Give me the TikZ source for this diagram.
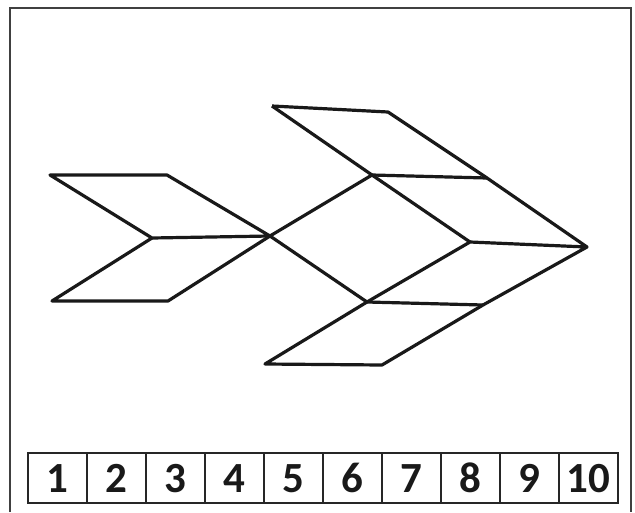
\documentclass[tikz,border=0pt]{standalone}
\usepackage{fontspec}
\newfontfamily\numfont{Carlito}
\usetikzlibrary{matrix}

\tikzset{
  edge/.style={line width=3.2pt, line join=round, color=black!90},
  frame/.style={line width=2.4pt, color=black!75},
  numbox/.style={draw, line width=2pt, color=black!85, text=black!90,
                 minimum width=59pt, minimum height=50pt, inner sep=0pt,
                 font=\numfont\bfseries\fontsize{43}{46}\selectfont}
}

\begin{document}
\begin{tikzpicture}[x=1pt, y=-1pt]
  \useasboundingbox (0,0) rectangle (635,512);

  % outer frame (open at the bottom)
  \draw[frame] (10,512) -- (10,8) -- (631,8) -- (631,512);

  % points of the figure
  \coordinate (lt1) at (50,175);
  \coordinate (lt2) at (167,175);
  \coordinate (lc)  at (152,238);
  \coordinate (lb1) at (52,301);
  \coordinate (lb2) at (168,301);
  \coordinate (j)   at (270,236);
  \coordinate (ta)  at (272,106);
  \coordinate (tb)  at (388,112);
  \coordinate (tc)  at (372,175);
  \coordinate (td)  at (487,178);
  \coordinate (m)   at (470,242);
  \coordinate (tip) at (587,247);
  \coordinate (bc)  at (367,302);
  \coordinate (bd)  at (483,305);
  \coordinate (ba)  at (265,364);
  \coordinate (bb)  at (382,365);

  % tail
  \draw[edge] (lt1) -- (lt2) -- (j) -- (lc) -- cycle;
  \draw[edge] (lc) -- (lb1) -- (lb2) -- (j);

  % head
  \draw[edge] (ta) -- (tb) -- (td) -- (tip) -- (bd) -- (bb) -- (ba) -- (bc) -- (m) -- (tip);
  \draw[edge] (ta) -- (tc) -- (m);
  \draw[edge] (tc) -- (td);
  \draw[edge] (j) -- (tc);
  \draw[edge] (j) -- (bc) -- (bd);

  % number strip
  \matrix (strip) [matrix of nodes, anchor=north west, column sep=-2pt,
                   nodes={numbox}] at (23,448) {
    1 & 2 & 3 & 4 & 5 & 6 & 7 & 8 & 9 & 10 \\
  };
\end{tikzpicture}
\end{document}
